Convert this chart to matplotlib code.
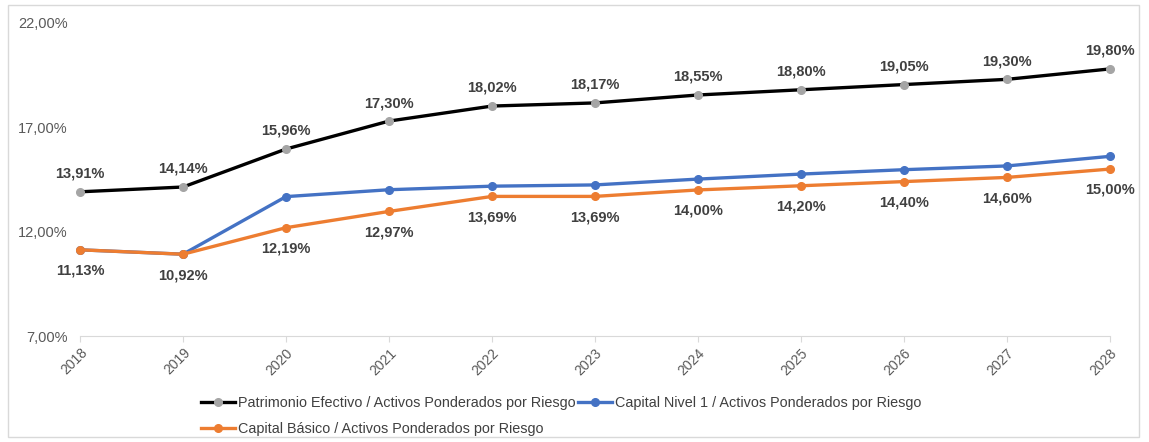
#!/usr/bin/env python3

import matplotlib
matplotlib.use("Agg")
import matplotlib.pyplot as plt
from matplotlib.patches import Rectangle
from matplotlib.ticker import FuncFormatter

years = ["2018", "2019", "2020", "2021", "2022", "2023",
         "2024", "2025", "2026", "2027", "2028"]
patrimonio = [13.91, 14.14, 15.96, 17.30, 18.02, 18.17, 18.55, 18.80, 19.05, 19.30, 19.80]
nivel1 = [11.13, 10.92, 13.68, 14.01, 14.18, 14.24, 14.52, 14.76, 14.97, 15.15, 15.61]
basico = [11.13, 10.92, 12.19, 12.97, 13.69, 13.69, 14.00, 14.20, 14.40, 14.60, 15.00]
y_ticks = [7, 12, 17, 22]

lbl_pat = "Patrimonio Efectivo / Activos Ponderados por Riesgo"
lbl_n1 = "Capital Nivel 1 / Activos Ponderados por Riesgo"
lbl_bas = "Capital Básico / Activos Ponderados por Riesgo"


def pct(v, pos=None):
    return f"{v:.2f}%".replace(".", ",")


plt.rcParams["font.family"] = ["Liberation Sans", "DejaVu Sans"]

fig = plt.figure(figsize=(11.49, 4.42), dpi=100)
fig.patches.append(Rectangle((8 / 1149, 5 / 442), 1131 / 1149, 432 / 442,
                             transform=fig.transFigure, fill=False,
                             edgecolor="#d9d9d9", lw=1))
ax = fig.add_axes([80 / 1149, 1 - 336 / 442, 1030 / 1149, 313 / 442])

x = list(range(len(years)))
h_pat, = ax.plot(x, patrimonio, color="black", lw=2.4, marker="o", ms=5.5,
                 mfc="#a5a5a5", mec="#a5a5a5", label=lbl_pat, zorder=3,
                 clip_on=False)
h_n1, = ax.plot(x, nivel1, color="#4472c4", lw=2.4, marker="o", ms=5.5,
                label=lbl_n1, zorder=3, clip_on=False)
h_bas, = ax.plot(x, basico, color="#ed7d31", lw=2.4, marker="o", ms=5.5,
                 label=lbl_bas, zorder=4, clip_on=False)

for xi, v in zip(x, patrimonio):
    ax.annotate(pct(v), (xi, v), xytext=(0, 13), textcoords="offset points",
                ha="center", va="center", fontsize=10.5, fontweight="bold",
                color="#404040")
for xi, v in zip(x, basico):
    ax.annotate(pct(v), (xi, v), xytext=(0, -15), textcoords="offset points",
                ha="center", va="center", fontsize=10.5, fontweight="bold",
                color="#404040")

ax.set_xlim(0, 10)
ax.set_ylim(7, 22)
ax.set_yticks(y_ticks)
ax.yaxis.set_major_formatter(FuncFormatter(pct))
ax.set_xticks(x)
ax.set_xticklabels(years, rotation=45, ha="right", rotation_mode="anchor")
for s in ["top", "right", "left"]:
    ax.spines[s].set_visible(False)
ax.spines["bottom"].set_color("#d9d9d9")
ax.tick_params(axis="y", length=0, pad=9, labelsize=10.5, labelcolor="#595959")
ax.tick_params(axis="x", length=4, color="#d9d9d9", labelsize=10,
               labelcolor="#595959", pad=3)

fig.legend(handles=[h_pat, h_bas, h_n1], loc="upper left",
           bbox_to_anchor=(201 / 1149, 1 - 396 / 442), ncol=2, frameon=False,
           fontsize=10.4, handlelength=2.35, handletextpad=0.2,
           columnspacing=0.2, labelspacing=0.85, borderaxespad=0, borderpad=0,
           labelcolor="#404040")

fig.savefig("out.png", dpi=100)
